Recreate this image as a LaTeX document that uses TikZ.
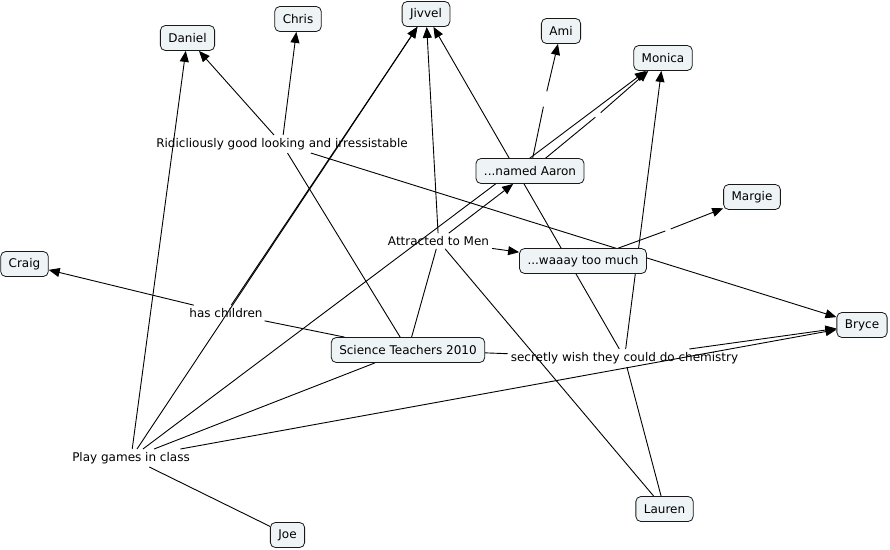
\documentclass[tikz,border=0pt]{standalone}
\usepackage{fontspec}
\setmainfont{DejaVu Sans}
\usetikzlibrary{arrows.meta}
\usetikzlibrary{backgrounds}
\definecolor{cfill}{RGB}{238,243,245}
\tikzstyle{concept} = [draw=black!90, line width=0.8pt, fill=cfill, rounded corners=5pt, minimum height=25pt, inner xsep=8pt, font=\fontsize{12}{14}\selectfont]
\tikzstyle{phrase} = [inner sep=3pt, font=\fontsize{12}{14}\selectfont]
\tikzstyle{blank} = [inner sep=0pt, minimum width=5pt, minimum height=15pt]
\tikzstyle{link} = [line width=0.9pt]
\tikzstyle{linkarrow} = [link, -{Triangle[length=11pt,width=9pt]}]

\begin{document}
\begin{tikzpicture}[x=1pt,y=-1pt]
\useasboundingbox (0,0) rectangle (890,549);

% concepts
\node[concept] (daniel) at (187.5,38) {Daniel};
\node[concept] (chris) at (298,19) {Chris};
\node[concept] (jivvel) at (426,14) {Jivvel};
\node[concept] (ami) at (561,31) {Ami};
\node[concept] (monica) at (663,58) {Monica};
\node[concept] (aaron) at (530,171) {...named Aaron};
\node[concept] (margie) at (752,197) {Margie};
\node[concept] (craig) at (24.5,264) {Craig};
\node[concept] (waaay) at (583,261) {...waaay too much};
\node[concept] (bryce) at (862,325) {Bryce};
\node[concept] (sci) at (408,350) {Science Teachers 2010};
\node[concept] (lauren) at (664.5,509) {Lauren};
\node[concept] (joe) at (287.5,535) {Joe};

% linking phrases
\node[phrase] (ridic) at (282,144) {Ridicliously good looking and irressistable};
\node[phrase] (attr) at (438.5,241) {Attracted to Men};
\node[phrase] (hasch) at (226,313) {has children};
\node[phrase] (secret) at (624.5,358) {secretly wish they could do chemistry};
\node[phrase] (play) at (131,458) {Play games in class};
\node[blank] (b_ami) at (545,99) {};
\node[blank] (b_monica) at (598,115) {};
\node[blank] (b_margie) at (668,230) {};

\begin{scope}[on background layer]
% concept to phrase
\draw[link] (joe) -- (play);
\draw[link] (sci) -- (play);
\draw[link] (sci) -- (hasch);
\draw[link] (sci) -- (ridic);
\draw[link] (sci) -- (attr);
\draw[link] (sci) -- (secret);
\draw[link] (lauren) -- (attr);
\draw[link] (lauren) -- (secret);
\draw[link] (aaron) -- (b_ami);
\draw[link] (aaron) -- (b_monica);
\draw[link] (waaay) -- (b_margie);

% phrase to concept
\draw[linkarrow] (play) -- (daniel);
\draw[linkarrow] (play) -- (jivvel);
\draw[linkarrow] (play) -- (monica);
\draw[linkarrow] (play) -- (bryce);
\draw[linkarrow] (hasch) -- (craig);
\draw[linkarrow] (hasch) -- (jivvel);
\draw[linkarrow] (ridic) -- (daniel);
\draw[linkarrow] (ridic) -- (chris);
\draw[linkarrow] (ridic) -- (bryce);
\draw[linkarrow] (attr) -- (jivvel);
\draw[linkarrow] (attr) -- (aaron);
\draw[linkarrow] (attr) -- (waaay);
\draw[linkarrow] (secret) -- (jivvel);
\draw[linkarrow] (secret) -- (monica);
\draw[linkarrow] (secret) -- (bryce);
\draw[linkarrow] (b_ami) -- (ami);
\draw[linkarrow] (b_monica) -- (monica);
\draw[linkarrow] (b_margie) -- (margie);
\end{scope}

\end{tikzpicture}
\end{document}
